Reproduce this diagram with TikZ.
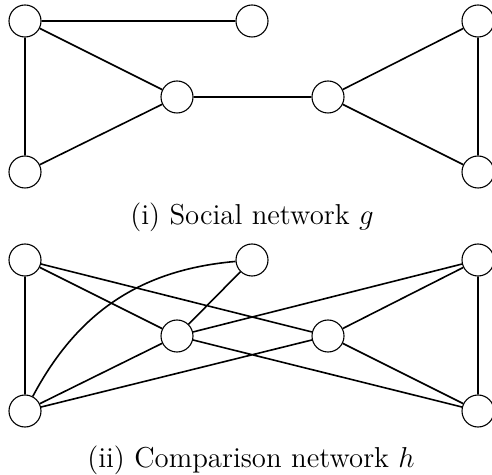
\documentclass[tikz,border=0pt]{standalone}
\begin{document}
\begin{tikzpicture}[x=0.5pt,y=-0.5pt,
  vtx/.style={circle,draw,line width=0.55pt,minimum size=16pt,inner sep=0pt,fill=white},
  lnk/.style={line width=0.8pt},
  captext/.style={font=\fontsize{14.4}{17}\selectfont,inner sep=0pt}]
\useasboundingbox (0,0) rectangle (492,475);
\clip (0,0) rectangle (492,475);
% top graph
\node[vtx] (a) at (25,21) {};
\node[vtx] (b) at (252,21) {};
\node[vtx] (c) at (25,172) {};
\node[vtx] (d) at (177,97) {};
\node[vtx] (e) at (328,97) {};
\node[vtx] (f) at (478,21) {};
\node[vtx] (g) at (478,172) {};
\draw[lnk] (a)--(b) (a)--(c) (a)--(d) (c)--(d) (d)--(e) (e)--(f) (e)--(g) (f)--(g);
\node[captext] (cap1) at (252,217) {(i) Social network $g$};
% bottom graph
\node[vtx] (a2) at (25,260) {};
\node[vtx] (b2) at (252,260) {};
\node[vtx] (c2) at (25,411) {};
\node[vtx] (d2) at (177,336) {};
\node[vtx] (e2) at (328,336) {};
\node[vtx] (f2) at (478,260) {};
\node[vtx] (g2) at (478,411) {};
\draw[lnk] (a2)--(c2) (a2)--(d2) (a2)--(e2) (d2)--(b2) (c2)--(d2) (c2)--(e2)
  (d2)--(f2) (d2)--(g2) (e2)--(f2) (e2)--(g2) (f2)--(g2);
\draw[lnk] (c2) to[out=62,in=185] (b2);
\node[captext] (cap2) at (251,460) {(ii) Comparison network $h$};
\end{tikzpicture}
\end{document}
